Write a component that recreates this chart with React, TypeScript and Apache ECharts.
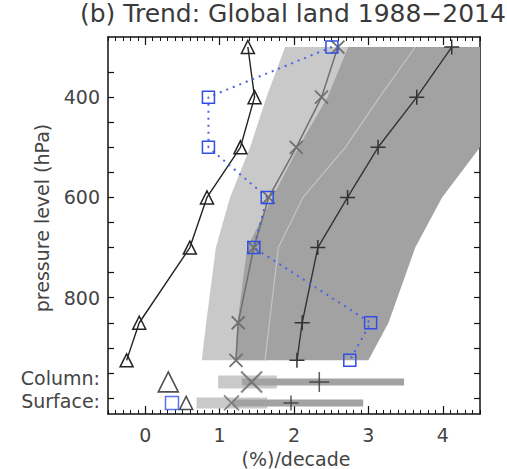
import React, { useEffect, useRef } from "react";
import * as echarts from "echarts";

// Pressure levels (hPa) of the profiles
const LEVELS = [300, 400, 500, 600, 700, 850, 925];
// Trend profiles (%/decade)
const TRIANGLE = [1.38, 1.47, 1.28, 0.83, 0.6, -0.08, -0.25];
const SQUARE = [2.51, 0.85, 0.85, 1.64, 1.46, 3.03, 2.75];
const CROSS = [2.59, 2.37, 2.03, 1.66, 1.46, 1.25, 1.22];
const PLUS = [4.12, 3.65, 3.13, 2.72, 2.32, 2.11, 2.04];
// Shaded ranges
const LIGHT_LO = [1.88, 1.63, 1.41, 1.14, 0.95, 0.82, 0.76];
const LIGHT_HI = [3.63, 3.15, 2.69, 2.12, 1.79, 1.67, 1.61];
const DARK_LO = [2.73, 2.45, 2.06, 1.71, 1.37, 1.24, 1.21];
const DARK_HI = [4.8, 4.7, 4.52, 3.99, 3.63, 3.27, 3.0];

// Summary rows: Column, Surface
const ROW_NAMES = ["Column:", "Surface:"];
const ROW_LABEL_P = [960, 1007];
const ROW_P = [968, 1010];
const ROW_TRIANGLE = [0.31, 0.55];
const ROW_SQUARE: (number | null)[] = [null, 0.36];
const ROW_CROSS = [1.43, 1.16];
const ROW_PLUS = [2.34, 1.96];
const ROW_LIGHT = [
  [0.98, 1.77],
  [0.69, 1.64],
];
const ROW_DARK = [
  [1.3, 3.48],
  [1.18, 2.93],
];

const Y_TICKS = [350, 400, 450, 500, 550, 600, 650, 700, 750, 800, 850, 900, 950, 1000];
const Y_LABELS = [400, 600, 800];
const X_LABELS = [0, 1, 2, 3, 4];

const TITLE = "(b) Trend: Global land 1988\u22122014";
const X_NAME = "(%)/decade";
const Y_NAME = "pressure level (hPa)";
const FONT = "DejaVu Sans";
const LIGHT = "#c9c9c9";
const DARK = "#a2a2a2";
const X_PATH = "path://M0,0L10,10M10,0L0,10";
const PLUS_PATH = "path://M5,0L5,10M0,5L10,5";

function bandSeries(lo: number[], hi: number[], fill: string, z: number) {
  return {
    type: "custom",
    z,
    silent: true,
    data: [[0, LEVELS[0]]],
    renderItem: (params: any, api: any) => {
      const pts: number[][] = [];
      for (let i = 0; i < LEVELS.length; i++) pts.push(api.coord([lo[i], LEVELS[i]]));
      for (let i = LEVELS.length - 1; i >= 0; i--) pts.push(api.coord([hi[i], LEVELS[i]]));
      const cs = params.coordSys;
      const clipped = echarts.graphic.clipPointsByRect(pts, {
        x: cs.x,
        y: cs.y,
        width: cs.width,
        height: cs.height,
      });
      return { type: "polygon", shape: { points: clipped }, style: { fill } };
    },
  };
}

export default function App() {
  const ref = useRef<HTMLDivElement>(null);
  useEffect(() => {
    if (!ref.current) return;
    const chart = echarts.init(ref.current, null, { renderer: "svg" });
    const labelColor = "#444";
    const axisLine = { show: true, onZero: false, lineStyle: { color: "#111", width: 1.5 } };
    const rowLabelMap: Record<number, string> = {};
    ROW_LABEL_P.forEach((p, i) => (rowLabelMap[p] = ROW_NAMES[i]));

    const series: any[] = [
      bandSeries(LIGHT_LO, LIGHT_HI, LIGHT, 1),
      bandSeries(DARK_LO, DARK_HI, DARK, 2),
      {
        type: "line",
        z: 3,
        silent: true,
        symbol: "none",
        data: LEVELS.map((p, i) => [LIGHT_HI[i], p]),
        lineStyle: { color: "#c4c4c4", width: 1.2 },
      },
    ];
    // Summary bars
    ROW_P.forEach((p, i) => {
      series.push({
        type: "line",
        z: 3,
        symbol: "none",
        silent: true,
        data: [
          [ROW_LIGHT[i][0], p],
          [ROW_LIGHT[i][1], p],
        ],
        lineStyle: { color: LIGHT, width: i === 0 ? 13 : 11, cap: "butt" },
      });
      series.push({
        type: "line",
        z: 4,
        symbol: "none",
        silent: true,
        data: [
          [ROW_DARK[i][0], p],
          [ROW_DARK[i][1], p],
        ],
        lineStyle: { color: DARK, width: 7, cap: "butt" },
      });
    });
    // Profiles
    series.push(
      {
        type: "line",
        z: 5,
        data: LEVELS.map((p, i) => [CROSS[i], p]),
        symbol: X_PATH,
        symbolSize: 13,
        lineStyle: { color: "#707070", width: 1.5 },
        itemStyle: { color: "rgba(0,0,0,0)", borderColor: "#707070", borderWidth: 1.8 },
      },
      {
        type: "line",
        z: 6,
        data: LEVELS.map((p, i) => [PLUS[i], p]),
        symbol: PLUS_PATH,
        symbolSize: 15,
        lineStyle: { color: "#333", width: 1.4 },
        itemStyle: { color: "rgba(0,0,0,0)", borderColor: "#333", borderWidth: 1.5 },
      },
      {
        type: "line",
        z: 6,
        data: LEVELS.map((p, i) => [TRIANGLE[i], p]),
        symbol: "triangle",
        symbolSize: 13,
        lineStyle: { color: "#222", width: 1.4 },
        itemStyle: { color: "rgba(0,0,0,0)", borderColor: "#222", borderWidth: 1.5 },
      },
      {
        type: "line",
        z: 7,
        data: LEVELS.map((p, i) => [SQUARE[i], p]),
        symbol: "rect",
        symbolSize: 12,
        lineStyle: { color: "#4a63e8", width: 2, type: [2, 5] },
        itemStyle: { color: "rgba(0,0,0,0)", borderColor: "#2f4fe6", borderWidth: 1.5 },
      }
    );
    // Summary markers
    ROW_P.forEach((p, i) => {
      const big = i === 0;
      series.push(
        {
          type: "scatter",
          z: 6,
          data: [[ROW_CROSS[i], p]],
          symbol: X_PATH,
          symbolSize: big ? 21 : 15,
          itemStyle: { color: "rgba(0,0,0,0)", borderColor: "#6a6a6a", borderWidth: big ? 2.2 : 1.8 },
        },
        {
          type: "scatter",
          z: 6,
          data: [[ROW_PLUS[i], p]],
          symbol: PLUS_PATH,
          symbolSize: big ? 20 : 15,
          itemStyle: { color: "rgba(0,0,0,0)", borderColor: "#333", borderWidth: 1.5 },
        },
        {
          type: "scatter",
          z: 6,
          data: [[ROW_TRIANGLE[i], p]],
          symbol: "triangle",
          symbolSize: big ? 20 : 13,
          itemStyle: { color: "rgba(0,0,0,0)", borderColor: "#222", borderWidth: 1.6 },
        }
      );
      if (ROW_SQUARE[i] !== null) {
        series.push({
          type: "scatter",
          z: 7,
          data: [[ROW_SQUARE[i], p]],
          symbol: "rect",
          symbolSize: 13,
          itemStyle: { color: "rgba(0,0,0,0)", borderColor: "#2f4fe6", borderWidth: 1.5 },
        });
      }
    });

    const xBase = { type: "value", min: -0.5, max: 4.5, splitLine: { show: false } };
    const yBase = { type: "value", min: 280, max: 1032, inverse: true, splitLine: { show: false } };

    chart.setOption({
      animation: false,
      backgroundColor: "#fff",
      grid: { left: 108, right: 27, top: 37, bottom: 55, containLabel: false, outerBoundsMode: "none" },
      graphic: [
        {
          type: "text",
          left: 80,
          top: 1,
          style: { text: TITLE, font: `25px "${FONT}"`, fill: "#3a3a3a" },
        },
        {
          type: "text",
          x: 296,
          y: 459,
          style: { text: X_NAME, font: `19px "${FONT}"`, fill: labelColor, align: "center", verticalAlign: "middle" },
        },
        {
          type: "text",
          x: 42,
          y: 218,
          rotation: Math.PI / 2,
          style: { text: Y_NAME, font: `19px "${FONT}"`, fill: labelColor, align: "center", verticalAlign: "middle" },
        },
      ],
      xAxis: [
        {
          ...xBase,
          position: "bottom",
          interval: 0.1,
          axisLine,
          axisTick: { inside: true, length: 4, lineStyle: { color: "#111", width: 1 } },
          axisLabel: { show: false },
        },
        {
          ...xBase,
          position: "bottom",
          axisLine: { show: false, onZero: false },
          axisTick: { inside: true, length: 8, customValues: X_LABELS, lineStyle: { color: "#111", width: 1.2 } },
          axisLabel: { customValues: X_LABELS, margin: 11, color: labelColor, fontSize: 19, fontFamily: FONT },
        },
        {
          ...xBase,
          position: "top",
          interval: 0.1,
          axisLine,
          axisTick: { inside: true, length: 4, lineStyle: { color: "#111", width: 1 } },
          axisLabel: { show: false },
        },
        {
          ...xBase,
          position: "top",
          axisLine: { show: false, onZero: false },
          axisTick: { inside: true, length: 8, customValues: X_LABELS, lineStyle: { color: "#111", width: 1.2 } },
          axisLabel: { show: false },
        },
      ],
      yAxis: [
        {
          ...yBase,
          position: "left",
          axisLine,
          axisTick: { inside: true, length: 6, customValues: Y_TICKS, lineStyle: { color: "#111", width: 1.2 } },
          axisLabel: {
            customValues: [...Y_LABELS, ...ROW_LABEL_P],
            margin: 8,
            color: labelColor,
            fontSize: 19,
            fontFamily: FONT,
            formatter: (v: number) => rowLabelMap[v] ?? String(v),
          },
        },
        {
          ...yBase,
          position: "right",
          axisLine,
          axisTick: { inside: true, length: 6, customValues: Y_TICKS, lineStyle: { color: "#111", width: 1.2 } },
          axisLabel: { show: false },
        },
      ],
      series,
    });
    return () => chart.dispose();
  }, []);
  return (
    <div
      ref={ref}
      style={{ position: "fixed", left: 0, top: 0, width: 507, height: 469, background: "#fff" }}
    />
  );
}
